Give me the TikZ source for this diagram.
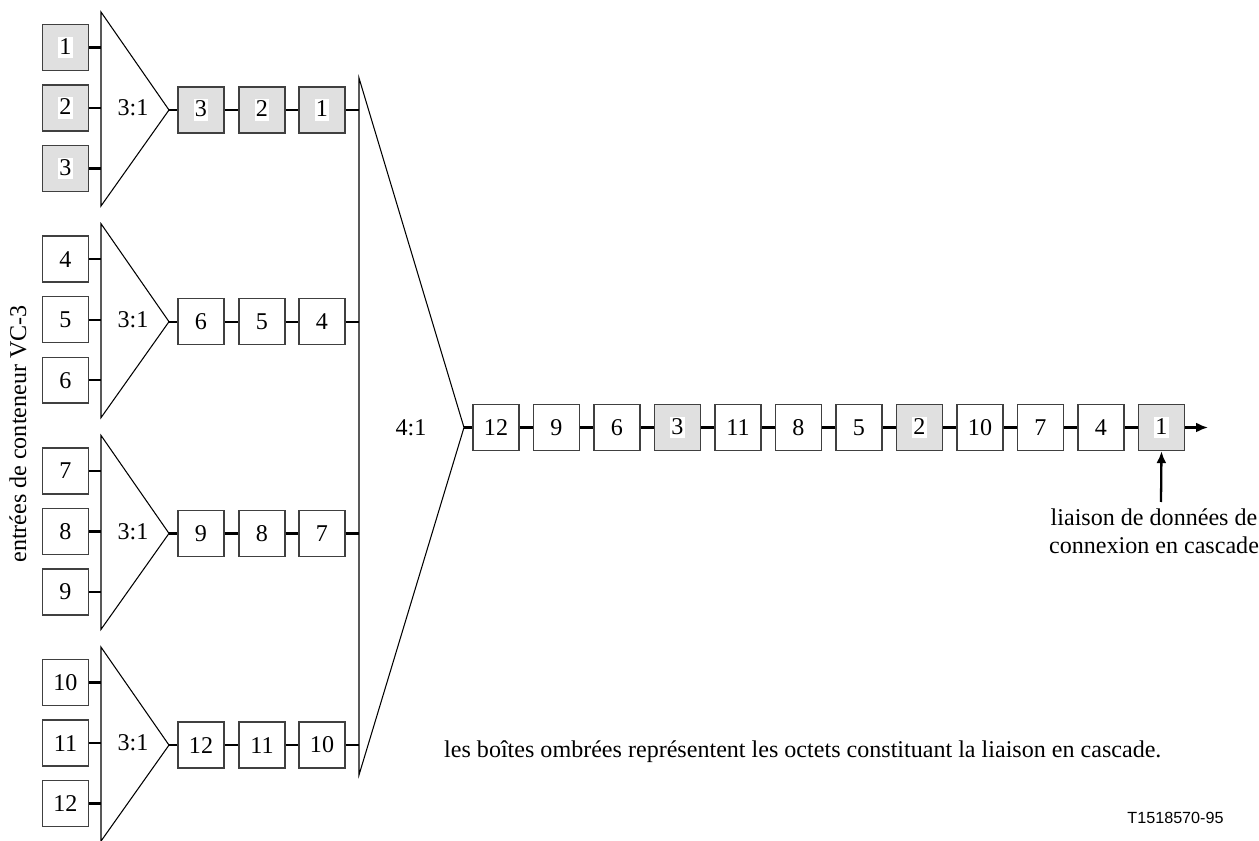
\documentclass[tikz,border=0pt]{standalone}
\usepackage{fontspec}
\setmainfont{Liberation Serif}
\setsansfont{Liberation Sans}
\usetikzlibrary{positioning}
\usetikzlibrary{arrows.meta}
\definecolor{shade}{RGB}{224,224,224}
\definecolor{edge}{RGB}{64,64,64}

\newcommand{\wdigit}[1]{{\setlength{\fboxsep}{0pt}\colorbox{white}{\rule[-0.15em]{0pt}{0.88em}\hspace{0.6pt}#1\hspace{0.6pt}}}}
\newcommand{\pdigit}[1]{#1}

\tikzset{
  octet/.style={draw=edge, line width=0.8pt, minimum size=0.92cm, inner sep=0pt, fill=white},
  octetsh/.style={octet, fill=shade},
  link/.style={line width=1.3pt},
  mux/.style={line width=0.6pt, line join=miter},
}

\begin{document}
\begin{tikzpicture}[x=0.02cm, y=-0.02cm, font=\fontsize{13.7}{16}\selectfont]

\useasboundingbox (0,0) rectangle (1259,841);

%---------------------------------------
% 4:1 multiplexer
%---------------------------------------
\coordinate (big-top) at (359,78);
\coordinate (big-tip) at (464,427.5);
\coordinate (big-bot) at (359,775);
\draw[mux] (big-top) -- (big-tip) -- (big-bot) -- cycle;
\node (ratio-big) at (411,427.5) {4:1};

%---------------------------------------
% 3:1 multiplexers with their inputs
%---------------------------------------
\foreach \g/\a/\b/\c/\s/\w in {0/1/2/3/octetsh/\wdigit, 1/4/5/6/octet/\pdigit,
                               2/7/8/9/octet/\pdigit, 3/10/11/12/octet/\pdigit} {
  \pgfmathsetmacro{\yc}{108+211.7*\g}
  \pgfmathsetmacro{\yo}{\yc+2}

  % Inputs
  \node[\s] (in\a) at (65.5,{\yc-60.5}) {\w{\a}};
  \node[\s] (in\b) at (65.5,\yc)        {\w{\b}};
  \node[\s] (in\c) at (65.5,{\yc+60.5}) {\w{\c}};

  % Triangle
  \coordinate (mux\g-top) at (101,{\yc-96});
  \coordinate (mux\g-tip) at (169,\yo);
  \coordinate (mux\g-bot) at (101,{\yc+98});
  \draw[mux] (mux\g-top) -- (mux\g-tip) -- (mux\g-bot) -- cycle;
  \node (ratio\g) at (133,\yc) {3:1};

  \draw[link] (in\a.east) -- (in\a.east -| mux\g-top);
  \draw[link] (in\b.east) -- (in\b.east -| mux\g-top);
  \draw[link] (in\c.east) -- (in\c.east -| mux\g-top);

  % Multiplexed octets
  \node[\s] (q\g-1) at (201,\yo) {\w{\c}};
  \node[\s] (q\g-2) at (262,\yo) {\w{\b}};
  \node[\s] (q\g-3) at (322,\yo) {\w{\a}};

  \draw[link] (mux\g-tip) -- (q\g-1.west);
  \draw[link] (q\g-1) -- (q\g-2);
  \draw[link] (q\g-2) -- (q\g-3);
  \draw[link] (q\g-3.east) -- (q\g-3.east -| big-top);
}

%---------------------------------------
% Output stream
%---------------------------------------
\foreach \v [count=\k from 0] in {12,9,6,3,11,8,5,2,10,7,4,1} {
  \ifnum\v<4 \def\st{octetsh}\def\w{\wdigit}\else\def\st{octet}\def\w{\pdigit}\fi
  \node[\st] (o\k) at ({496+60.5*\k},427.5) {\w{\v}};
}
\draw[link] (big-tip) -- (o0.west);
\foreach \k [evaluate=\k as \p using int(\k-1)] in {1,...,11}
  \draw[link] (o\p) -- (o\k);

\coordinate (out-end) at (1208,427.5);
\draw[link, -{Latex[length=2.4mm, width=2mm]}] (o11.east) -- (out-end);

% Cascade link label
\node[align=center, inner sep=0pt] (cascade) at (1154,531)
  {liaison de données de\\connexion en cascade};
\coordinate (cascade-tail) at (1161,502);
\draw[link, -{Latex[length=2.4mm, width=2mm]}] (cascade-tail) -- (o11.south);

%---------------------------------------
% Texts
%---------------------------------------
\node[rotate=90] (vclabel) at (18,434) {entrées de conteneur VC-3};
\node[anchor=west] (shadenote) at (438,752)
  {les boîtes ombrées représentent les octets constituant la liaison en cascade.};
\node[font=\sffamily\fontsize{9.2}{11}\selectfont] (fignum) at (1175.5,818) {T1518570-95};

\end{tikzpicture}
\end{document}
